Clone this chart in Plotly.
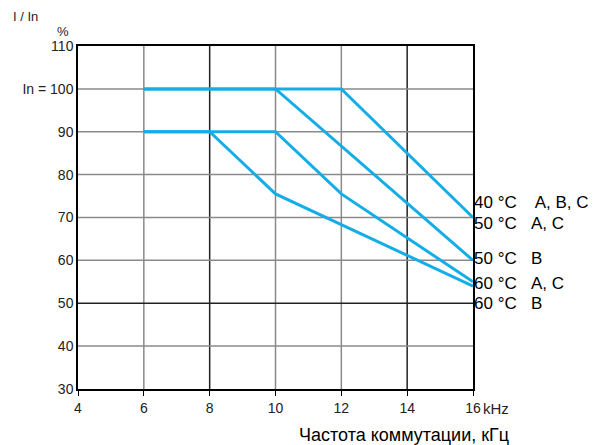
import plotly.graph_objects as go

# Derating curves: output current (% of In) versus switching frequency (kHz)
curve_40_x = [6, 12, 16]
curve_40_y = [100, 100, 70]
curve_50_x = [6, 10, 16]
curve_50_y = [100, 100, 60]
curve_60ac_x = [6, 10, 12, 16]
curve_60ac_y = [90, 90, 75.5, 55]
curve_60b_x = [6, 8, 10, 16]
curve_60b_y = [90, 90, 75.5, 54]

x_ticks = [4, 6, 8, 10, 12, 14, 16]
x_tick_labels = ["4", "6", "8", "10", "12", "14", "16"]
y_ticks = [30, 40, 50, 60, 70, 80, 90, 100, 110]
y_tick_labels = ["30", "40", "50", "60", "70", "80", "90", "In = 100", "110"]

curve_labels = ["40 °C    A, B, C", "50 °C   A, C", "50 °C   B", "60 °C   A, C", "60 °C   B"]
curve_label_y = [73.4, 68.7, 60.5, 54.5, 50]

# which grid lines are drawn dark in the original
dark_x = [8, 14]
dark_y = [50]

BLUE = "#14ade6"
FONT = "Liberation Sans, Arial, sans-serif"

fig = go.Figure()

for xs, ys in [(curve_40_x, curve_40_y), (curve_50_x, curve_50_y),
               (curve_60ac_x, curve_60ac_y), (curve_60b_x, curve_60b_y)]:
    fig.add_trace(go.Scatter(x=xs, y=ys, mode="lines",
                             line=dict(color=BLUE, width=3),
                             showlegend=False))

# grid lines
for xv in x_ticks[1:-1]:
    fig.add_shape(type="line", x0=xv, x1=xv, y0=30, y1=110, xref="x", yref="y",
                  line=dict(color="#222222" if xv in dark_x else "#8a8a8a", width=1.5),
                  layer="below")
for yv in y_ticks[1:-1]:
    fig.add_shape(type="line", x0=4, x1=16, y0=yv, y1=yv, xref="x", yref="y",
                  line=dict(color="#222222" if yv in dark_y else "#8a8a8a", width=1.5),
                  layer="below")

for txt, yv in zip(curve_labels, curve_label_y):
    fig.add_annotation(x=16, y=yv, text=txt.replace("   ", "\u00a0\u00a0\u00a0"),
                       showarrow=False, xref="x", yref="y",
                       xanchor="left", xshift=-1, font=dict(size=17, color="black"))

fig.add_annotation(x=0, y=1, xref="paper", yref="paper", text="I / In",
                   showarrow=False, xanchor="left", yanchor="middle",
                   xshift=-67, yshift=30, font=dict(size=13, color="#222"))
fig.add_annotation(x=0, y=1, xref="paper", yref="paper", text="%",
                   showarrow=False, xanchor="center", yanchor="middle",
                   xshift=-15, yshift=15, font=dict(size=13, color="#222"))
fig.add_annotation(x=16, y=30, xref="x", yref="y", text="kHz",
                   showarrow=False, xanchor="left", yanchor="middle",
                   xshift=8, yshift=-19, font=dict(size=15, color="#222"))
fig.add_annotation(x=16, y=30, xref="x", yref="y", text="Частота коммутации, кГц",
                   showarrow=False, xanchor="right", yanchor="middle",
                   xshift=38, yshift=-46, font=dict(size=18, color="black"))

fig.update_xaxes(range=[4, 16], tickvals=x_ticks, ticktext=x_tick_labels,
                 showgrid=False, zeroline=False, showline=True, mirror=True,
                 linecolor="black", linewidth=1.5, ticks="outside", ticklen=5,
                 tickcolor="black", tickfont=dict(size=14, color="#222"))
fig.update_yaxes(range=[30, 110], tickvals=y_ticks, ticktext=y_tick_labels,
                 showgrid=False, zeroline=False, showline=True, mirror=True,
                 linecolor="black", linewidth=1.5, ticks="", tickfont=dict(size=14, color="#222"))

fig.update_layout(width=588, height=437,
                  margin=dict(l=70, r=123, t=38, b=56),
                  plot_bgcolor="white", paper_bgcolor="white",
                  font=dict(family=FONT, color="black"))

fig.write_html("out.html")
